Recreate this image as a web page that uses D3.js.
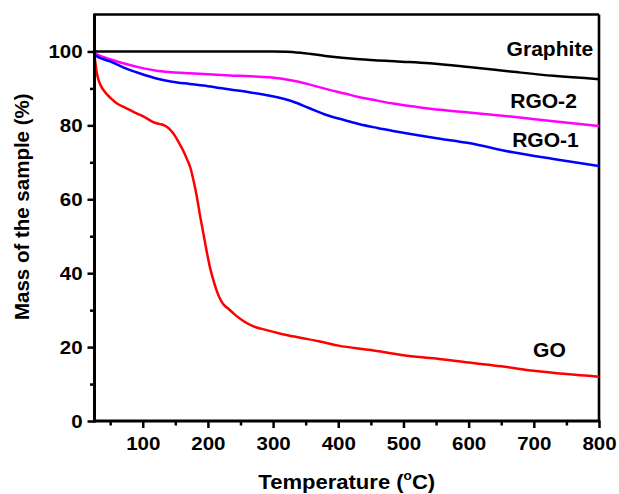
<!DOCTYPE html>
<html>
<head>
<meta charset="utf-8">
<script src="https://cdn.jsdelivr.net/npm/d3@7/dist/d3.min.js"></script>
<style>
  html, body { margin: 0; padding: 0; background: #fff; }
  svg text { font-family: Arial, "Liberation Sans", Helvetica, sans-serif; font-weight: bold; fill: #000; }
</style>
</head>
<body>
<svg id="chart" width="619" height="494"></svg>
<script>
// ---- data (temperature °C, mass %) ----
const graphite = [[26,100],[100,100],[200,100],[300,100],[320,99.95],[345,99.6],[380,98.8],[433,97.9],[490,97.3],[540,96.8],[600,95.8],[668,94.5],[730,93.4],[800,92.5]];
const rgo2 = [[26,99.6],[29,99.3],[50,97.9],[70,96.8],[95,95.7],[121,94.8],[145,94.4],[172,94.1],[200,93.8],[234,93.5],[265,93.3],[295,93.0],[331,92.1],[355,91.1],[382,89.8],[410,88.6],[433,87.6],[460,86.7],[484,85.9],[520,85.0],[556,84.2],[600,83.5],[668,82.3],[730,81.1],[800,79.8]];
const rgo1 = [[26,99.2],[27,99.0],[50,97.3],[70,95.7],[95,94.1],[121,92.7],[145,91.8],[172,91.2],[200,90.6],[234,89.7],[265,88.9],[295,88.0],[331,86.4],[355,84.7],[382,82.8],[410,81.4],[433,80.3],[460,79.3],[484,78.5],[520,77.4],[556,76.4],[600,75.2],[668,72.7],[730,70.9],[800,69.0]];
const go = [[26,99.2],[28,96],[31,93],[35,91],[42,89],[50,87.5],[60,86],[75,84.6],[90,83.3],[105,82],[116,80.9],[125,80.4],[133,80],[140,79.2],[147,77.8],[155,75.5],[162,73.2],[168,70.8],[173,68.6],[178,65],[183,60.7],[188,55.5],[193,50.8],[198,46],[203,41.7],[208,38.3],[213,35.5],[218,33.3],[224,31.5],[232,30.3],[240,29],[255,27],[270,25.6],[290,24.6],[310,23.7],[340,22.6],[370,21.6],[400,20.4],[450,19.2],[500,17.8],[550,16.9],[600,15.8],[650,14.8],[700,13.6],[750,12.7],[800,12.0]];

const seriesNames = ["Graphite","RGO-2","RGO-1","GO"];
const seriesData = [graphite, rgo2, rgo1, go];
const seriesColors = ["#000000","#ff00ff","#0000ff","#ff0000"];
// label anchor points (data space: temperature, mass)
const labelPos = [[791,98.7],[766,84.7],[769,74.1],[749,17.3]];

const xMajor = [100,200,300,400,500,600,700,800];
const xMinor = [50,150,250,350,450,550,650,750];
const yMajor = [0,20,40,60,80,100];
const yMinor = [10,30,50,70,90];

const xTitle = "Temperature (";
const yTitle = "Mass of the sample (%)";

// ---- layout ----
const svg = d3.select("#chart");
const L = 94.5, R = 599, T = 14.5, B = 421;
const x = d3.scaleLinear().domain([26, 800]).range([L, R]);
const y = d3.scaleLinear().domain([0, 110]).range([B, T]);

// frame top/right
svg.append("line").attr("x1", L).attr("x2", R).attr("y1", T).attr("y2", T)
  .attr("stroke", "#000").attr("stroke-width", 2.6);
svg.append("line").attr("x1", R).attr("x2", R).attr("y1", T).attr("y2", B)
  .attr("stroke", "#000").attr("stroke-width", 2.6);

// series
const line = d3.line().x(d => x(d[0])).y(d => y(d[1])).curve(d3.curveMonotoneX);
seriesData.forEach((s, i) => {
  svg.append("path").datum(s).attr("d", line)
    .attr("fill", "none").attr("stroke", seriesColors[i])
    .attr("stroke-width", 2.5).attr("stroke-linejoin", "round");
});

// axes
const fs = 19;
const xAxis = svg.append("g").attr("transform", `translate(0,${B})`)
  .call(d3.axisBottom(x).tickValues(xMajor).tickSize(7).tickPadding(9).tickFormat(d3.format("d")));
const xAxisMinor = svg.append("g").attr("transform", `translate(0,${B})`)
  .call(d3.axisBottom(x).tickValues(xMinor).tickSize(4.5).tickFormat(""));
const yAxis = svg.append("g").attr("transform", `translate(${L},0)`)
  .call(d3.axisLeft(y).tickValues(yMajor).tickSize(7).tickPadding(4).tickFormat(d3.format("d")));
const yAxisMinor = svg.append("g").attr("transform", `translate(${L},0)`)
  .call(d3.axisLeft(y).tickValues(yMinor).tickSize(4.5).tickFormat(""));

[xAxis, xAxisMinor, yAxis, yAxisMinor].forEach(g => {
  g.select(".domain").remove();
  g.selectAll(".tick line").attr("stroke", "#000").attr("stroke-width", 2.5);
  g.selectAll(".tick text").attr("font-size", fs).attr("font-family", "Arial, 'Liberation Sans', sans-serif")
    .attr("font-weight", "bold").attr("fill", "#000");
});
xAxis.selectAll(".tick text").attr("transform", "scale(1.08,1)");
yAxis.selectAll(".tick text").attr("transform", "scale(1.08,1)");

// main axis lines
svg.append("line").attr("x1", L).attr("x2", L).attr("y1", T - 1).attr("y2", B + 1.5)
  .attr("stroke", "#000").attr("stroke-width", 3);
svg.append("line").attr("x1", L - 1.5).attr("x2", R + 1.3).attr("y1", B).attr("y2", B)
  .attr("stroke", "#000").attr("stroke-width", 3);

// series labels
seriesNames.forEach((n, i) => {
  const px = x(labelPos[i][0]), py = y(labelPos[i][1]);
  svg.append("text").attr("transform", `translate(${px},${py}) scale(1.08,1)`)
    .attr("text-anchor", "end").attr("font-size", 19.5).text(n);
});

// axis titles
const xt = svg.append("text").attr("transform", `translate(${(L + R) / 2},489) scale(1.05,1)`)
  .attr("text-anchor", "middle").attr("font-size", 21);
xt.append("tspan").text(xTitle);
xt.append("tspan").attr("font-size", 13).attr("dy", -9).text("o");
xt.append("tspan").attr("dy", 9).text("C)");

svg.append("text").attr("transform", `translate(29,${(T + B) / 2 - 11}) rotate(-90)`)
  .attr("text-anchor", "middle").attr("font-size", 20.5).text(yTitle);
</script>
</body>
</html>
